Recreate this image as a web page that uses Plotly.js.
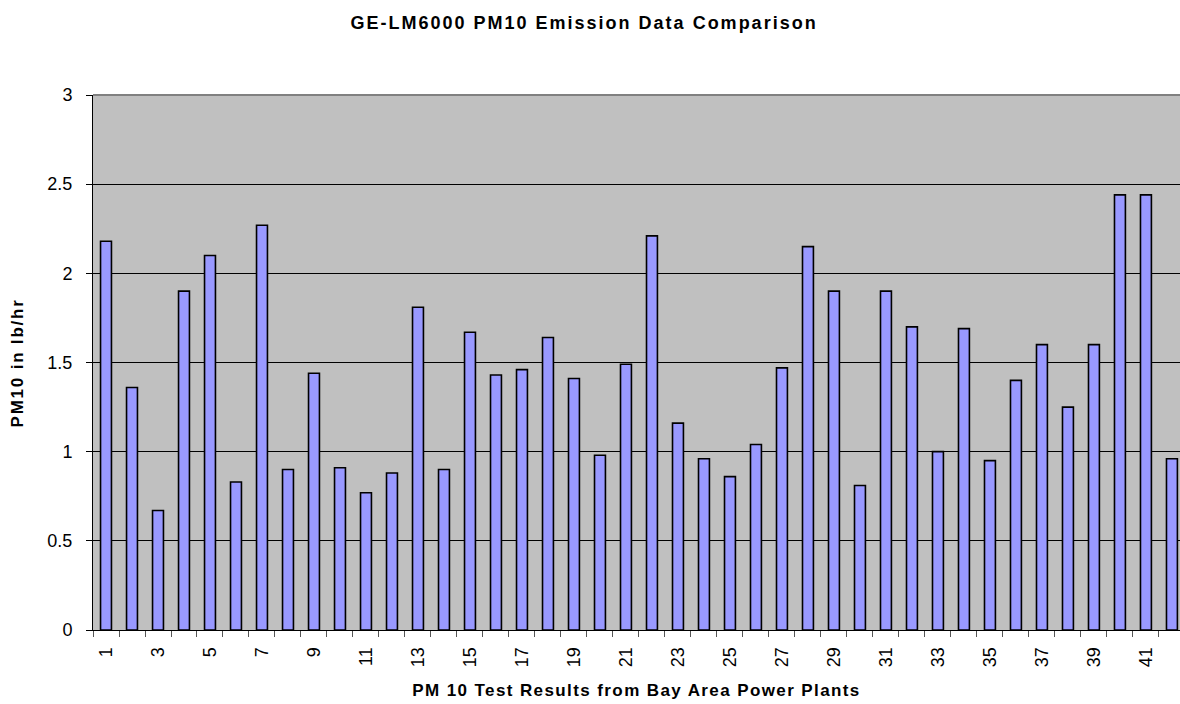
<!DOCTYPE html>
<html>
<head>
<meta charset="utf-8">
<script src="https://cdn.plot.ly/plotly-3.0.1.min.js"></script>
<style>
html,body{margin:0;padding:0;background:#fff;}
#chart{width:1180px;height:704px;}
.gtitle{letter-spacing:2px;}
.xtitle{letter-spacing:1.4px;}
.annotation-text{letter-spacing:1.8px;}
</style>
</head>
<body>
<div id="chart"></div>
<script>
const testIds = Array.from({length: 42}, (_, i) => i + 1);
const pm10Values = [2.18, 1.36, 0.67, 1.90, 2.10, 0.83, 2.27, 0.90, 1.44, 0.91,
                    0.77, 0.88, 1.81, 0.90, 1.67, 1.43, 1.46, 1.64, 1.41, 0.98,
                    1.49, 2.21, 1.16, 0.96, 0.86, 1.04, 1.47, 2.15, 1.90, 0.81,
                    1.90, 1.70, 1.00, 1.69, 0.95, 1.40, 1.60, 1.25, 1.60, 2.44,
                    2.44, 0.96];
const labelIds = testIds.filter(v => v % 2 === 1);
const labelText = labelIds.map(String);

const font = "Liberation Sans, Arial, sans-serif";

Plotly.newPlot('chart', [{
  type: 'bar',
  x: testIds,
  y: pm10Values,
  width: 0.42,
  marker: {color: '#9999FF', line: {color: '#000000', width: 1.6}},
  hoverinfo: 'x+y'
}], {
  width: 1180, height: 704,
  margin: {l: 93, r: 0, t: 95, b: 74, pad: 0},
  paper_bgcolor: '#ffffff',
  plot_bgcolor: '#C0C0C0',
  showlegend: false,
  title: {text: '<b>GE-LM6000 PM10 Emission Data Comparison</b>', x: 0.495, xanchor: 'center', y: 0.968, yanchor: 'middle',
          font: {family: font, size: 18, color: '#000'}},
  xaxis: {
    type: 'linear',
    range: [0.5, 42.31],
    tickvals: labelIds, ticktext: labelText,
    tickangle: -90,
    ticks: '',
    ticklabelstandoff: 9,
    showgrid: false, zeroline: false,
    showline: true, linecolor: '#000', linewidth: 1,
    tickfont: {family: font, size: 18, color: '#000'},
    minor: {tick0: 0.5, dtick: 1, ticks: 'outside', ticklen: 6, tickcolor: '#555', tickwidth: 1, showgrid: false},
    title: {text: '<b>PM 10 Test Results from Bay Area Power Plants</b>', standoff: 17,
            font: {family: font, size: 17, color: '#000'}},
    fixedrange: true
  },
  yaxis: {
    range: [0, 3],
    dtick: 0.5,
    ticks: 'outside', ticklen: 6, tickcolor: '#000',
    ticklabelstandoff: 10,
    showgrid: true, gridcolor: '#000', gridwidth: 1,
    zeroline: false,
    showline: true, linecolor: '#000', linewidth: 1,
    tickfont: {family: font, size: 18, color: '#000'},
    fixedrange: true
  },
  annotations: [{
    text: '<b>PM10 in lb/hr</b>', textangle: -90,
    xref: 'paper', yref: 'paper', x: -0.069, y: 0.5,
    xanchor: 'center', yanchor: 'middle', showarrow: false,
    font: {family: font, size: 17, color: '#000'}
  }],
  shapes: [{type: 'line', xref: 'paper', yref: 'paper', x0: 0, x1: 1, y0: 1, y1: 1,
            line: {color: '#808080', width: 2}}]
}, {displayModeBar: false, staticPlot: true});
</script>
</body>
</html>
